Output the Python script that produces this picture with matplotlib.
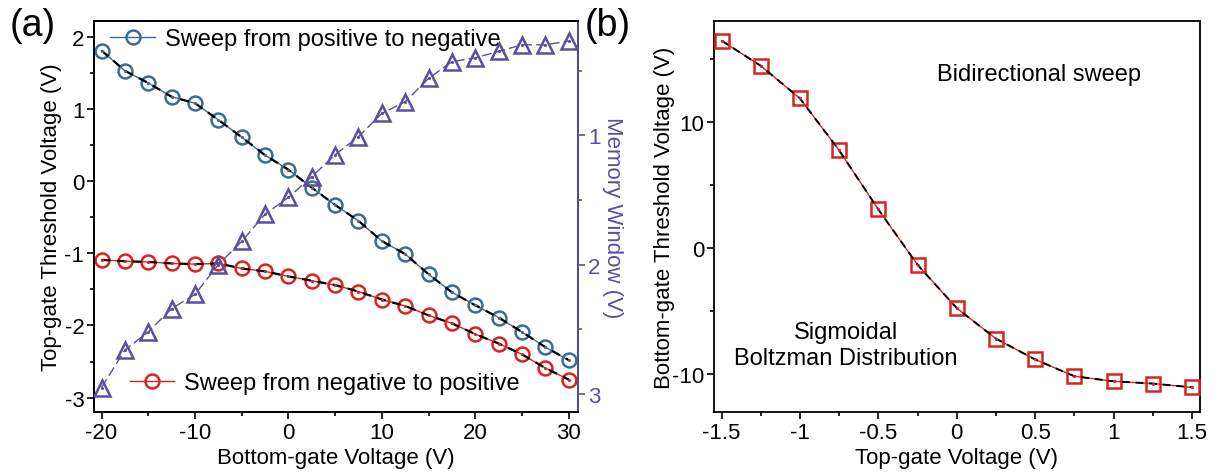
import matplotlib
matplotlib.use('Agg')
import matplotlib.pyplot as plt
from matplotlib.ticker import MultipleLocator

plt.rcParams['font.family'] = ['Liberation Sans', 'DejaVu Sans']
plt.rcParams['axes.unicode_minus'] = False

# (a) bottom-gate sweep
vbg = [-20, -17.5, -15, -12.5, -10, -7.5, -5, -2.5, 0, 2.5, 5,
       7.5, 10, 12.5, 15, 17.5, 20, 22.5, 25, 27.5, 30]
vth_pos2neg = [1.81, 1.53, 1.36, 1.17, 1.08, 0.85, 0.61, 0.36, 0.16, -0.09, -0.33,
               -0.55, -0.83, -1.01, -1.29, -1.54, -1.72, -1.89, -2.09, -2.30, -2.48]
vth_neg2pos = [-1.09, -1.11, -1.12, -1.14, -1.15, -1.14, -1.21, -1.25, -1.32, -1.38, -1.44,
               -1.53, -1.64, -1.73, -1.86, -1.97, -2.12, -2.25, -2.40, -2.59, -2.75]
memory_window = [2.95, 2.66, 2.52, 2.34, 2.23, 2.00, 1.82, 1.61, 1.48, 1.32, 1.15,
                 1.01, 0.83, 0.74, 0.56, 0.43, 0.40, 0.35, 0.30, 0.30, 0.27]

# (b) top-gate sweep
vtg = [-1.5, -1.25, -1.0, -0.75, -0.5, -0.25, 0, 0.25, 0.5, 0.75, 1.0, 1.25, 1.5]
vth_bg = [16.44, 14.44, 11.86, 7.74, 3.06, -1.33, -4.76, -7.18, -8.83, -10.16, -10.56, -10.74, -11.04]

blue = '#3b6d94'
red = '#d8241f'
purple = '#5b4ea0'
fs = 16

fig = plt.figure(figsize=(12.18, 4.77), dpi=100)
ax1 = fig.add_axes([0.0772, 0.134, 0.3974, 0.820])
ax2 = ax1.twinx()
ax3 = fig.add_axes([0.586, 0.134, 0.399, 0.820])

# left panel
l1, = ax1.plot(vbg, vth_pos2neg, '-', color=blue, lw=1.0, marker='o', ms=10,
               mfc='none', mec=blue, mew=1.8, zorder=3)
ax1.plot(vbg, vth_pos2neg, '.', color=blue, ms=2.5, zorder=5)
ax1.plot(vbg, vth_pos2neg, '--', color='black', lw=1.6, dashes=(4, 3), zorder=4)
l2, = ax1.plot(vbg, vth_neg2pos, '-', color=red, lw=1.0, marker='o', ms=10,
               mfc='none', mec=red, mew=1.8, zorder=3)
ax1.plot(vbg, vth_neg2pos, '.', color=red, ms=2.5, zorder=5)
ax1.plot(vbg, vth_neg2pos, '--', color='black', lw=1.6, dashes=(4, 3), zorder=4)

ax2.plot(vbg, memory_window, '-', color=purple, lw=1.0, dashes=(7, 3), marker='^', ms=12,
         mfc='none', mec=purple, mew=1.8, zorder=3)
ax2.plot(vbg, memory_window, '.', color=purple, ms=2.5, zorder=4)

ax1.set_xlim(-20.8, 31)
ax1.set_ylim(-3.2, 2.22)
ax2.set_ylim(3.14, 0.115)
ax1.xaxis.set_major_locator(MultipleLocator(10))
ax1.xaxis.set_minor_locator(MultipleLocator(5))
ax1.yaxis.set_major_locator(MultipleLocator(1))
ax1.yaxis.set_minor_locator(MultipleLocator(0.5))
ax2.yaxis.set_major_locator(MultipleLocator(1))
ax2.yaxis.set_minor_locator(MultipleLocator(0.5))

ax1.set_xlabel('Bottom-gate Voltage (V)', fontsize=fs, labelpad=3)
ax1.set_ylabel('Top-gate Threshold Voltage (V)', fontsize=fs, labelpad=2)
ax2.set_ylabel('Memory Window (V)', fontsize=fs, color=purple, rotation=-90, labelpad=16)
ax1.tick_params(which='both', direction='out', labelsize=fs, width=1.2)
ax1.tick_params(which='major', length=5, pad=2)
ax1.tick_params(which='minor', length=3)
ax2.tick_params(which='both', direction='out', labelsize=fs, colors=purple, width=1.2)
ax2.tick_params(which='major', length=5, pad=2)
ax2.tick_params(which='minor', length=3)
for ax in (ax1, ax2):
    for s in ax.spines.values():
        s.set_linewidth(1.3)
ax2.spines['right'].set_color(purple)

leg1 = ax1.legend([l1], ['Sweep from positive to negative'], loc='center left',
                  bbox_to_anchor=(0.014, 0.953), frameon=False, fontsize=fs + 1,
                  handlelength=1.9, handletextpad=0.4, borderaxespad=0.0)
ax1.add_artist(leg1)
ax1.legend([l2], ['Sweep from negative to positive'], loc='center left',
           bbox_to_anchor=(0.054, 0.074), frameon=False, fontsize=fs + 1,
           handlelength=1.9, handletextpad=0.4, borderaxespad=0.0)

# right panel
ax3.plot(vtg, vth_bg, '-', color=red, lw=1.0, marker='s', ms=10,
         mfc='none', mec=red, mew=1.8, zorder=3)
ax3.plot(vtg, vth_bg, '.', color=red, ms=2.5, zorder=5)
ax3.plot(vtg, vth_bg, '--', color='black', lw=1.4, dashes=(4, 3), zorder=4)
ax3.set_xlim(-1.55, 1.55)
ax3.set_ylim(-13, 18)
ax3.xaxis.set_minor_locator(MultipleLocator(0.25))
ax3.yaxis.set_major_locator(MultipleLocator(10))
ax3.yaxis.set_minor_locator(MultipleLocator(5))
ax3.set_xticks([-1.5, -1, -0.5, 0, 0.5, 1, 1.5])
ax3.set_xticklabels(['-1.5', '-1', '-0.5', '0', '0.5', '1', '1.5'])
ax3.set_xlabel('Top-gate Voltage (V)', fontsize=fs, labelpad=3)
ax3.set_ylabel('Bottom-gate Threshold Voltage (V)', fontsize=fs, labelpad=-2)
ax3.tick_params(which='both', direction='out', labelsize=fs, width=1.2)
ax3.tick_params(which='major', length=5, pad=2)
ax3.tick_params(which='minor', length=3)
for s in ax3.spines.values():
    s.set_linewidth(1.3)
ax3.text(0.46, 0.864, 'Bidirectional sweep', transform=ax3.transAxes,
         fontsize=fs + 1, va='center')
ax3.text(0.272, 0.171, 'Sigmoidal\nBoltzman Distribution', transform=ax3.transAxes,
         fontsize=fs + 1, ha='center', va='center', linespacing=1.25)

fig.text(0.008, 0.945, '(a)', fontsize=27, va='center')
fig.text(0.480, 0.945, '(b)', fontsize=27, va='center')

fig.savefig('out.png', dpi=100)
